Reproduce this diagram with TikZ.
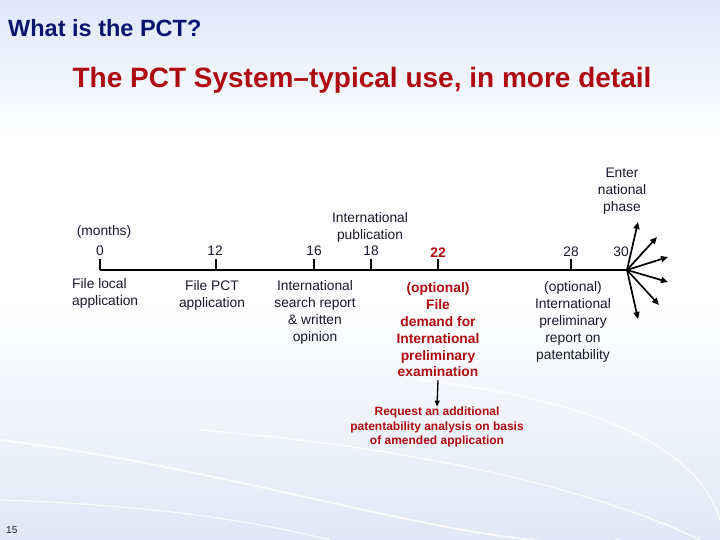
\documentclass[tikz,border=0pt]{standalone}
\usepackage{fontspec}
\setmainfont{Liberation Sans}
\usetikzlibrary{arrows.meta}
\definecolor{navy}{RGB}{10,20,110}
\definecolor{darkred}{RGB}{175,10,15}
\definecolor{bodytxt}{RGB}{25,25,45}
\definecolor{bgblue}{RGB}{222,232,250}
\definecolor{bgblue2}{RGB}{224,231,246}
\tikzset{
  lbl/.style={font=\fontsize{13.8}{17}\selectfont, text=bodytxt, align=center, inner sep=0pt},
  redlbl/.style={font=\bfseries\fontsize{13.8}{16.8}\selectfont, text=darkred, align=center, inner sep=0pt},
  smallred/.style={font=\bfseries\fontsize{12}{14.6}\selectfont, text=darkred, align=center, inner sep=0pt},
  tl/.style={line width=2.4pt, black},
  tick/.style={line width=2.2pt, black},
  fan/.style={line width=1.7pt, black, -{Triangle[length=7pt,width=6pt]}}
}
\begin{document}
\begin{tikzpicture}[x=1pt,y=-1pt]
\useasboundingbox (0,0) rectangle (720,540);
% background
\shade[top color=bgblue, bottom color=white] (0,0) rectangle (720,140);
\fill[white] (0,140) rectangle (720,300);
\shade[top color=white, bottom color=bgblue2] (0,300) rectangle (720,540);
\draw[white, line width=2pt, opacity=0.8] (0,440) .. controls (250,470) and (500,560) .. (620,540);
\draw[white, line width=1.5pt, opacity=0.8] (200,430) .. controls (450,450) and (620,500) .. (700,540);
\draw[white, line width=1.5pt, opacity=0.8] (420,380) .. controls (600,400) and (700,450) .. (720,520);
\draw[white, line width=1.2pt, opacity=0.8] (0,500) .. controls (150,505) and (250,520) .. (330,540);

% titles
\node[anchor=west, inner sep=0pt, font=\bfseries\fontsize{23.5}{28}\selectfont, text=navy] (t1) at (8,28) {What is the PCT?};
\node[inner sep=0pt, font=\bfseries\fontsize{28}{32}\selectfont, text=darkred] (t2) at (362,80) {The PCT System--typical use, in more detail};

% timeline points
\coordinate (m0) at (100,270);
\coordinate (m12) at (216,270);
\coordinate (m16) at (314,270);
\coordinate (m18) at (371,270);
\coordinate (m22) at (438,270);
\coordinate (m28) at (571,270);
\coordinate (m30) at (627,270);
\draw[tl] (m0) -- (m30);
\foreach \p in {m0,m12,m16,m18,m22,m28}{
  \draw[tick] (\p) -- ++(0,-11);
}

% fan arrows
\coordinate (f1) at (638,222);
\coordinate (f2) at (657,237);
\coordinate (f3) at (668,257);
\coordinate (f4) at (668,282);
\coordinate (f5) at (659,305);
\coordinate (f6) at (638,319);
\foreach \f in {f1,f2,f3,f4,f5,f6}{
  \draw[fan] (m30) -- (\f);
}

% upper labels
\node[lbl] (months) at (104,232) {(months)};
\node[lbl] (n0) at (100,251) {0};
\node[lbl] (n12) at (215,251) {12};
\node[lbl] (n16) at (314,251) {16};
\node[lbl] (n18) at (371,251) {18};
\node[lbl] (pub) at (370,227.5) {International\\publication};
\node[redlbl] (n22) at (438,253) {22};
\node[lbl] (n28) at (571,252) {28};
\node[lbl] (n30) at (621,252) {30};
\node[lbl] (enter) at (622,191) {Enter\\national\\phase};

% lower labels
\node[lbl, align=left, anchor=north west] (local) at (72,278) {File local\\application};
\node[lbl] (pct) at (212,295.5) {File PCT\\application};
\node[lbl] (isr) at (315,312.5) {International\\search report\\\& written\\opinion};
\node[redlbl] (demand) at (438,330) {(optional)\\File\\demand for\\International\\preliminary\\examination};
\node[lbl] (iprp) at (573,322) {(optional)\\International\\preliminary\\report on\\patentability};
\node[smallred] (req) at (437,427) {Request an additional\\patentability analysis on basis\\of amended application};
\draw[line width=1.3pt, -{Triangle[length=6pt,width=5pt]}] (demand.south) ++(0,3) -- (req.north);

\node[anchor=west, inner sep=0pt, font=\fontsize{10}{12}\selectfont, text=bodytxt] (pg) at (6,530) {15};
\end{tikzpicture}
\end{document}
